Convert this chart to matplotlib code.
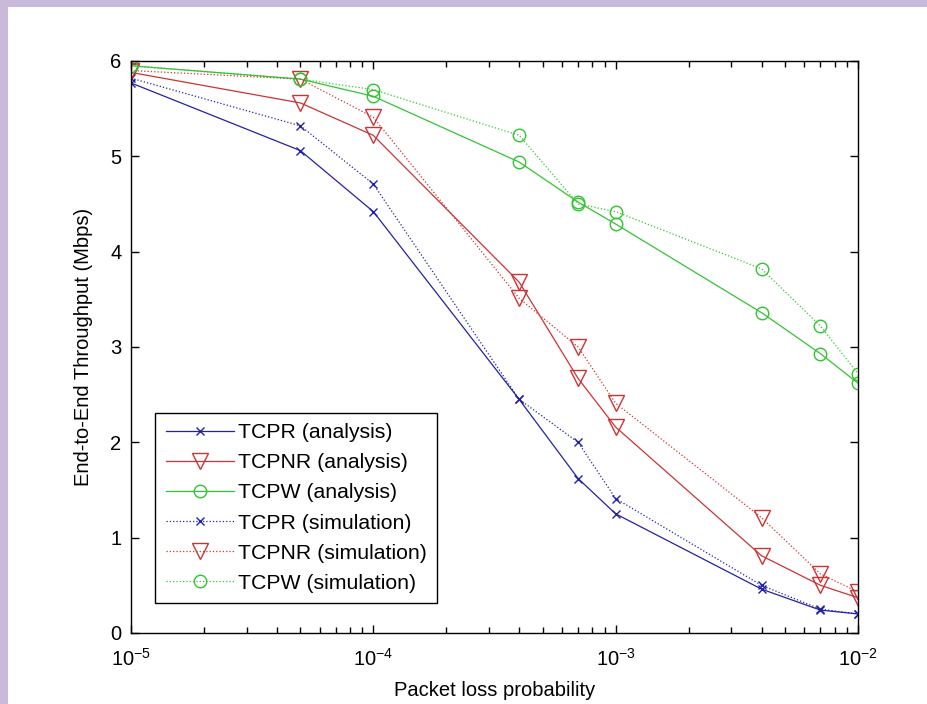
import matplotlib
matplotlib.use("Agg")
import matplotlib.pyplot as plt
from matplotlib.patches import Rectangle
from matplotlib.ticker import LogLocator, FixedLocator, NullFormatter

# ---- data ----
loss_prob = [1e-5, 5e-5, 1e-4, 4e-4, 7e-4, 1e-3, 4e-3, 7e-3, 1e-2]
tcpr_analysis = [5.77, 5.06, 4.42, 2.45, 1.62, 1.25, 0.46, 0.24, 0.20]
tcpnr_analysis = [5.88, 5.56, 5.22, 3.68, 2.67, 2.16, 0.81, 0.50, 0.37]
tcpw_analysis = [5.95, 5.81, 5.63, 4.94, 4.52, 4.29, 3.36, 2.93, 2.62]
tcpr_simulation = [5.82, 5.32, 4.71, 2.45, 2.00, 1.41, 0.50, 0.25, 0.20]
tcpnr_simulation = [5.90, 5.81, 5.41, 3.51, 3.00, 2.41, 1.21, 0.62, 0.43]
tcpw_simulation = [5.95, 5.81, 5.70, 5.22, 4.50, 4.42, 3.82, 3.22, 2.72]
labels = ["TCPR (analysis)", "TCPNR (analysis)", "TCPW (analysis)",
          "TCPR (simulation)", "TCPNR (simulation)", "TCPW (simulation)"]
y_ticks = [0, 1, 2, 3, 4, 5, 6]
x_label = "Packet loss probability"
y_label = "End-to-End Throughput (Mbps)"

plt.rcParams['font.family'] = ['Liberation Sans', 'DejaVu Sans']
plt.rcParams['mathtext.fontset'] = 'custom'
plt.rcParams['mathtext.rm'] = 'Liberation Sans'
plt.rcParams['axes.unicode_minus'] = False

W, H = 928, 704
fig = plt.figure(figsize=(W / 100, H / 100), dpi=100)
fig.patch.set_facecolor('#c9bad9')
fig.add_artist(Rectangle((8 / W, 0), 1, 1 - 7 / H, transform=fig.transFigure,
                         facecolor='white', edgecolor='none', zorder=0))

ax = fig.add_axes([131 / W, 1 - 633 / H, 727 / W, 572 / H])

blue = '#2222a8'
red = '#cc3333'
green = '#33c433'
lw = 0.9
fs = 14.5

ax.plot(loss_prob, tcpr_analysis, '-', color=blue, lw=lw, marker='x', ms=6, mew=1.0, label=labels[0])
ax.plot(loss_prob, tcpnr_analysis, '-', color=red, lw=lw, marker='v', ms=11, mfc='none', mew=1.0, label=labels[1])
ax.plot(loss_prob, tcpw_analysis, '-', color=green, lw=lw, marker='o', ms=9, mfc='none', mew=1.0, label=labels[2])
ax.plot(loss_prob, tcpr_simulation, ':', color=blue, lw=lw, marker='x', ms=6, mew=1.0, label=labels[3])
ax.plot(loss_prob, tcpnr_simulation, ':', color=red, lw=lw, marker='v', ms=11, mfc='none', mew=1.0, label=labels[4])
ax.plot(loss_prob, tcpw_simulation, ':', color=green, lw=lw, marker='o', ms=9, mfc='none', mew=1.0, label=labels[5])

ax.set_xscale('log')
ax.set_xlim(1e-5, 1e-2)
ax.set_ylim(0, 6)
ax.yaxis.set_major_locator(FixedLocator(y_ticks))
ax.xaxis.set_major_locator(LogLocator(base=10, numticks=10))
ax.xaxis.set_minor_locator(LogLocator(base=10, subs=range(2, 10), numticks=20))
ax.xaxis.set_minor_formatter(NullFormatter())

ax.tick_params(which='both', direction='in', top=True, right=True, labelsize=fs, color='black')
ax.tick_params(which='major', length=6, width=1.0)
ax.tick_params(which='minor', length=4, width=1.0)
ax.tick_params(axis='x', pad=11)
ax.tick_params(axis='y', pad=7)
for s in ax.spines.values():
    s.set_linewidth(1.0)
    s.set_color('black')

ax.set_xlabel(x_label, fontsize=fs, labelpad=8)
ax.set_ylabel(y_label, fontsize=fs, labelpad=12)

leg = ax.legend(loc='lower left', bbox_to_anchor=(0.033, 0.052), borderaxespad=0,
                fontsize=15.3, frameon=True, fancybox=False, edgecolor='black',
                framealpha=1, handlelength=3.2, handletextpad=0.2,
                labelspacing=0.52, borderpad=0.5)
leg.get_frame().set_linewidth(1.0)

fig.savefig('out.png', dpi=100, facecolor=fig.get_facecolor())
